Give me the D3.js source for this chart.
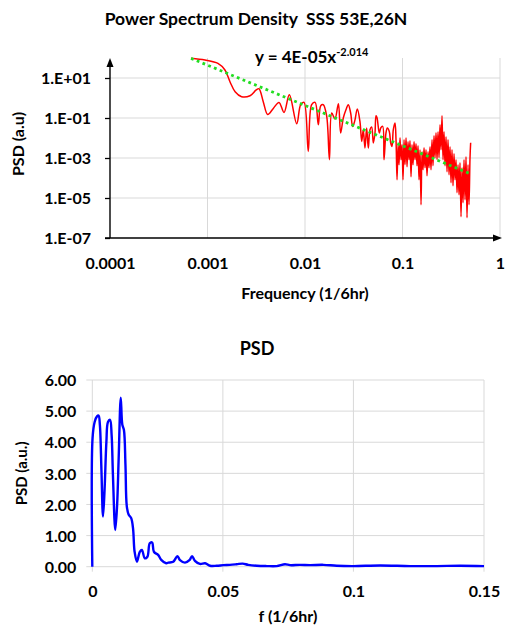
<!DOCTYPE html>
<html><head><meta charset="utf-8">
<script src="https://cdn.jsdelivr.net/npm/d3@7"></script>
<style>
body{margin:0;background:#fff;}
svg text{font-family:Lato, Carlito, Calibri, "Open Sans", sans-serif;font-weight:bold;fill:#000;}
</style></head><body>
<svg id="chart" width="507" height="628"></svg>
<script>
// ---------- Top chart data (log-log PSD) ----------
const redFreq = [6.78e-4, 9.42e-4, 1.28e-3, 1.51e-3, 1.70e-3, 1.92e-3, 2.24e-3, 2.73e-3, 3.14e-3, 3.37e-3,
  3.73e-3, 4.14e-3, 4.73e-3, 5.41e-3, 6.09e-3, 6.91e-3, 8.22e-3, 9.03e-3, 9.77e-3, 1.08e-2,
  1.17e-2, 1.27e-2, 1.37e-2, 1.45e-2, 1.54e-2, 1.67e-2, 1.78e-2, 1.88e-2, 2.03e-2, 2.20e-2,
  2.32e-2, 2.47e-2, 2.63e-2, 2.78e-2, 2.94e-2, 3.08e-2, 3.23e-2, 3.44e-2, 3.66e-2, 3.82e-2,
  3.96e-2, 4.12e-2, 4.29e-2, 4.46e-2, 4.64e-2, 4.83e-2, 5.02e-2, 5.22e-2, 5.35e-2, 5.48e-2,
  5.78e-2, 5.98e-2, 6.26e-2, 6.46e-2, 6.77e-2, 6.99e-2, 7.32e-2, 7.57e-2, 7.80e-2, 8.05e-2, 8.38e-2,
  0.0858, 0.0879, 0.0900, 0.0921, 0.0943, 0.0966, 0.0989, 0.1012, 0.1037, 0.1061,
  0.1087, 0.1113, 0.1139, 0.1167, 0.1194, 0.1223, 0.1252, 0.1282, 0.1313, 0.1344,
  0.1376, 0.1409, 0.1443, 0.1477, 0.1513, 0.1549, 0.1586, 0.1624, 0.1663, 0.1702,
  0.1743, 0.1785, 0.1827, 0.1871, 0.1916, 0.1961, 0.2008, 0.2056, 0.2105, 0.2156,
  0.2207, 0.2260, 0.2314, 0.2369, 0.2426, 0.2484, 0.2543, 0.2604, 0.2666, 0.2730,
  0.2795, 0.2862, 0.2930, 0.3000, 0.3072, 0.3145, 0.3220, 0.3297, 0.3376, 0.3457,
  0.3539, 0.3624, 0.3711, 0.3799, 0.3890, 0.3983, 0.4078, 0.4176, 0.4275, 0.4378,
  0.4482, 0.4589, 0.4699, 0.4811, 0.4926, 0.5];
const redPSD = [97.7, 79.4, 53.7, 25.1, 6.53, 2.07, 1.16, 1.30, 2.45, 2.92,
  0.653, 0.151, 0.302, 0.603, 0.191, 1.46, 0.0519, 0.462, 0.603, 2.14e-3,
  0.462, 0.603, 0.0462, 0.412, 0.462, 0.120, 8.22e-4, 0.178, 0.0891, 0.519,
  0.0178, 0.1, 0.260, 0.462, 0.178, 0.0380, 0.0676, 0.282, 0.0676, 6.76e-3,
  0.0260, 3.16e-3, 0.0316, 3.16e-3, 0.0260, 0.0355, 5.62e-3, 0.0178, 0.130, 0.104,
  0.0178, 0.0316, 0.0380, 8.22e-4, 0.0178, 0.0316, 0.0214, 5.62e-3, 3.80e-3, 0.0260, 0.0562,
  8.22e-3, 8.22e-5, 4.62e-3, 4.62e-4, 1.04e-2, 8.22e-4, 4.62e-3, 8.22e-5, 8.22e-3, 4.62e-4,
  1.04e-2, 3.67e-4, 6.53e-3, 8.22e-4, 7.33e-3, 1.16e-4, 4.62e-3, 4.62e-4, 6.53e-3, 8.22e-4,
  5.19e-3, 4.12e-4, 4.12e-3, 8.22e-5, 2.60e-3, 4.62e-6, 2.07e-3, 2.60e-4, 3.27e-3, 3.27e-4,
  2.60e-3, 1.30e-4, 2.07e-3, 3.27e-4, 3.67e-3, 2.60e-4, 8.22e-3, 4.12e-4, 1.30e-2, 1.04e-3,
  1.84e-2, 8.22e-4, 2.07e-2, 1.04e-3, 4.62e-2, 2.60e-3, 0.130, 8.22e-4, 2.07e-2, 4.12e-4,
  1.16e-2, 2.07e-4, 8.22e-3, 1.46e-4, 3.67e-3, 5.82e-5, 2.60e-3, 4.12e-5, 1.64e-3, 8.22e-5,
  8.22e-4, 1.84e-5, 4.62e-4, 1.46e-5, 5.82e-4, 1.16e-6, 3.27e-4, 5.82e-6, 8.22e-4, 8.22e-6,
  1.16e-3, 1.04e-6, 4.62e-4, 4.62e-6, 1.04e-3, 5.82e-3];
// power-law trend line end points (y = 4E-05x^-2.014)
const trendFreq = [6.78e-4, 0.5];
const trendPSD = [96, 1.6e-4];
const topXTicks = [0.0001, 0.001, 0.01, 0.1, 1];
const topXLabels = ["0.0001", "0.001", "0.01", "0.1", "1"];
const topYTicks = [1e1, 1e-1, 1e-3, 1e-5, 1e-7];
const topYLabels = ["1.E+01", "1.E-01", "1.E-03", "1.E-05", "1.E-07"];

// ---------- Bottom chart data (linear PSD) ----------
const blueFreq = [0, 0.0001, 0.00092, 0.0018, 0.0024, 0.0029, 0.0035, 0.0041, 0.0047, 0.0054,
  0.0060, 0.0068, 0.0074, 0.0079, 0.0088, 0.0095, 0.0101, 0.0109, 0.0115, 0.0121,
  0.0127, 0.0132, 0.0139, 0.0149, 0.0156, 0.0162, 0.0171, 0.0182, 0.0190, 0.0201,
  0.0211, 0.0220, 0.0229, 0.0236, 0.0252, 0.0264, 0.0283, 0.0291, 0.0310, 0.0326,
  0.0336, 0.0355, 0.0372, 0.0382, 0.0393, 0.0412, 0.0432, 0.0451, 0.0476, 0.0502,
  0.0527, 0.0553, 0.0576, 0.0597, 0.0630, 0.0668, 0.0706, 0.0738, 0.0757, 0.0795,
  0.0834, 0.0885, 0.0936, 0.1000, 0.1102, 0.1217, 0.1319, 0.1408, 0.15];
const bluePSD = [0, 4.13, 4.66, 4.83, 4.86, 4.56, 3.11, 1.61, 2.47, 4.02,
  4.65, 4.72, 4.23, 2.95, 1.18, 1.98, 3.49, 5.43, 4.56, 4.40,
  3.27, 1.95, 1.68, 1.56, 1.23, 0.48, 0.16, 0.48, 0.54, 0.27,
  0.32, 0.75, 0.78, 0.48, 0.38, 0.22, 0.11, 0.13, 0.16, 0.34,
  0.21, 0.13, 0.21, 0.34, 0.19, 0.09, 0.11, 0.03, 0.03, 0.05,
  0.06, 0.08, 0.10, 0.06, 0.03, 0.02, 0.02, 0.08, 0.05, 0.06,
  0.05, 0.06, 0.03, 0.02, 0.04, 0.02, 0.02, 0.03, 0.02];
const botXTicks = [0, 0.05, 0.1, 0.15];
const botXLabels = ["0", "0.05", "0.1", "0.15"];
const botYTicks = [0, 1, 2, 3, 4, 5, 6];

const GRID = "#d9d9d9";
const svg = d3.select("#chart");

// ================= TOP CHART =================
const xT = d3.scaleLog().domain([1e-4, 1]).range([110, 500]);
const yT = d3.scaleLog().domain([1e-7, 1e2]).range([238, 58]);

const gT = svg.append("g");
gT.append("g").selectAll("line").data(topYTicks.filter(d => d > 1e-7)).join("line")
  .attr("x1", xT(1e-4)).attr("x2", xT(1)).attr("y1", d => yT(d)).attr("y2", d => yT(d))
  .attr("stroke", GRID).attr("stroke-width", 1);
gT.append("g").selectAll("line").data(topXTicks.filter(d => d > 1e-4)).join("line")
  .attr("x1", d => xT(d)).attr("x2", d => xT(d)).attr("y1", yT(1e2)).attr("y2", yT(1e-7))
  .attr("stroke", GRID).attr("stroke-width", 1);

// y axis ticks + labels
const yAxT = gT.append("g").attr("transform", `translate(${xT(1e-4)},0)`)
  .call(d3.axisLeft(yT).tickValues(topYTicks).tickSize(5).tickPadding(14)
    .tickFormat((d, i) => topYLabels[i]));
yAxT.select(".domain").remove();
yAxT.selectAll("line").attr("stroke", "#000").attr("stroke-width", 1.3);
yAxT.selectAll("text").attr("font-size", 16).attr("dy", "0.36em");

// x axis labels
const xAxT = gT.append("g").attr("transform", `translate(0,${yT(1e-7)})`)
  .call(d3.axisBottom(xT).tickValues(topXTicks).tickSize(0).tickPadding(20)
    .tickFormat((d, i) => topXLabels[i]));
xAxT.select(".domain").remove();
xAxT.selectAll("text").attr("font-size", 16);

// axis lines with arrows
gT.append("line").attr("x1", xT(1e-4)).attr("x2", xT(1e-4)).attr("y1", yT(1e-7)).attr("y2", 64)
  .attr("stroke", "#000").attr("stroke-width", 1.4);
gT.append("path").attr("d", `M${xT(1e-4)},58 L${xT(1e-4) - 3.5},67 L${xT(1e-4) + 3.5},67 Z`).attr("fill", "#000");
gT.append("line").attr("x1", xT(1e-4) - 5).attr("x2", 495).attr("y1", yT(1e-7)).attr("y2", yT(1e-7))
  .attr("stroke", "#000").attr("stroke-width", 1.4);
gT.append("path").attr("d", `M502,${yT(1e-7)} L493,${yT(1e-7) - 3.5} L493,${yT(1e-7) + 3.5} Z`).attr("fill", "#000");

// red PSD line
const redData = redFreq.map((f, i) => [f, redPSD[i]]);
gT.append("path").datum(redData)
  .attr("d", d3.line().x(d => xT(d[0])).y(d => yT(d[1])).curve(d3.curveCatmullRom.alpha(0.5)))
  .attr("fill", "none").attr("stroke", "#ff0000").attr("stroke-width", 1.5).attr("stroke-linejoin", "round");

// trend line (dotted green)
const trendData = trendFreq.map((f, i) => [f, trendPSD[i]]);
gT.append("path").datum(trendData)
  .attr("d", d3.line().x(d => xT(d[0])).y(d => yT(d[1])))
  .attr("fill", "none").attr("stroke", "#22dd22").attr("stroke-width", 2.8)
  .attr("stroke-dasharray", "2.8,3.4");

// titles
svg.append("text").attr("x", 256).attr("y", 25).attr("text-anchor", "middle")
  .attr("font-size", 17.5).style("white-space", "pre").text("Power Spectrum Density  SSS 53E,26N");
const eq = svg.append("text").attr("x", 255).attr("y", 63).attr("font-size", 17);
eq.append("tspan").text("y = 4E-05x");
eq.append("tspan").attr("dy", -7).attr("font-size", 11).text("-2.014");
svg.append("text").attr("transform", `translate(24,${yT(1e-2) + 6}) rotate(-90)`)
  .attr("text-anchor", "middle").attr("font-size", 16).text("PSD (a.u)");
svg.append("text").attr("x", 305).attr("y", 299).attr("text-anchor", "middle")
  .attr("font-size", 16).text("Frequency (1/6hr)");

// ================= BOTTOM CHART =================
const xB = d3.scaleLinear().domain([0, 0.15]).range([92.3, 484]);
const yB = d3.scaleLinear().domain([0, 6]).range([566.7, 380]);
const gB = svg.append("g");

gB.append("g").selectAll("line").data(botYTicks).join("line")
  .attr("x1", xB(0) - 6).attr("x2", xB(0.15)).attr("y1", d => yB(d)).attr("y2", d => yB(d))
  .attr("stroke", GRID).attr("stroke-width", 1);
gB.append("g").selectAll("line").data(botXTicks).join("line")
  .attr("x1", d => xB(d)).attr("x2", d => xB(d)).attr("y1", yB(6)).attr("y2", yB(0) + 5)
  .attr("stroke", GRID).attr("stroke-width", 1);

const yAxB = gB.append("g").attr("transform", `translate(${xB(0)},0)`)
  .call(d3.axisLeft(yB).tickValues(botYTicks).tickSize(0).tickPadding(16).tickFormat(d3.format(".2f")));
yAxB.select(".domain").remove();
yAxB.selectAll("text").attr("font-size", 16).attr("dy", "0.36em");

const xAxB = gB.append("g").attr("transform", `translate(0,${yB(0)})`)
  .call(d3.axisBottom(xB).tickValues(botXTicks).tickSize(0).tickPadding(19)
    .tickFormat((d, i) => botXLabels[i]));
xAxB.select(".domain").remove();
xAxB.selectAll("text").attr("font-size", 16);

const blueData = blueFreq.map((f, i) => [f, bluePSD[i]]);
gB.append("path").datum(blueData)
  .attr("d", d3.line().x(d => xB(d[0])).y(d => yB(d[1])).curve(d3.curveCatmullRom.alpha(0.5)))
  .attr("fill", "none").attr("stroke", "#0000ff").attr("stroke-width", 2.4).attr("stroke-linejoin", "round");

svg.append("text").attr("x", 257).attr("y", 355).attr("text-anchor", "middle")
  .attr("font-size", 18).text("PSD");
svg.append("text").attr("transform", `translate(27,${yB(3)}) rotate(-90)`)
  .attr("text-anchor", "middle").attr("font-size", 15).text("PSD (a.u.)");
svg.append("text").attr("x", 288).attr("y", 622).attr("text-anchor", "middle")
  .attr("font-size", 16).text("f (1/6hr)");
</script>
</body></html>
